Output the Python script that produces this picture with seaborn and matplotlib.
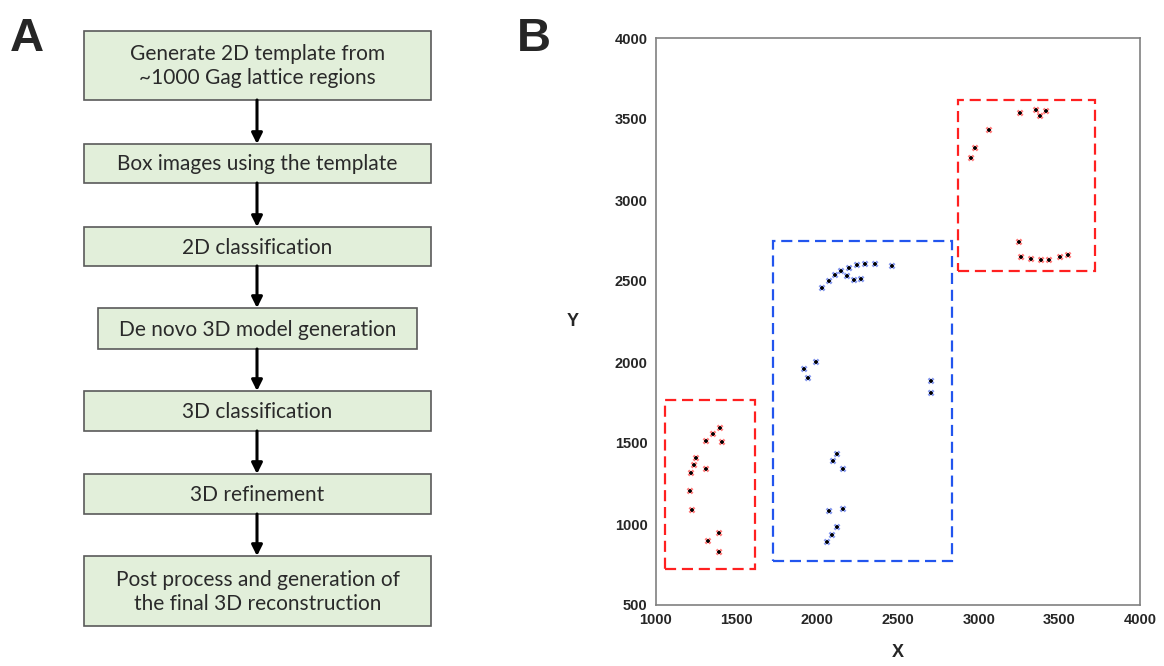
import pandas as pd
import matplotlib.pyplot as plt
import seaborn as sns
from matplotlib.patches import Rectangle

sns.set_theme(style="white")
plt.rcParams['font.family'] = ['Liberation Sans', 'DejaVu Sans']

# Flowchart steps (panel A)
steps = [
    "Generate 2D template from\n~1000 Gag lattice regions",
    "Box images using the template",
    "2D classification",
    "De novo 3D model generation",
    "3D classification",
    "3D refinement",
    "Post process and generation of\nthe final 3D reconstruction",
]

# Particle coordinates (panel B)
red_lower_x = [1397, 1353, 1310, 1409, 1248, 1236, 1217, 1310, 1211, 1223, 1391, 1322, 1391]
red_lower_y = [1593, 1556, 1512, 1506, 1407, 1364, 1315, 1340, 1204, 1086, 944, 895, 827]
blue_x = [2029, 2073, 2110, 2147, 2197, 2246, 2296, 2358, 2463, 2184, 2228, 2271,
          1992, 1918, 1942, 2705, 2705, 2122, 2097, 2159, 2073, 2159, 2122, 2091, 2060]
blue_y = [2457, 2500, 2537, 2562, 2580, 2599, 2605, 2605, 2593, 2531, 2506, 2512,
          2000, 1957, 1901, 1883, 1809, 1432, 1389, 1340, 1080, 1093, 981, 932, 889]
red_upper_x = [3257, 3356, 3418, 3381, 3064, 2978, 2953, 3250, 3263, 3325, 3387, 3436, 3505, 3554]
red_upper_y = [3537, 3556, 3549, 3519, 3432, 3321, 3259, 2741, 2648, 2636, 2630, 2630, 2648, 2660]

# Selection boxes: (x0, y0, x1, y1)
box_red_lower = (1055, 720, 1615, 1765)
box_blue = (1725, 772, 2835, 2747)
box_red_upper = (2872, 2562, 3722, 3617)

df = pd.concat([
    pd.DataFrame({"x": red_lower_x, "y": red_lower_y, "group": "red"}),
    pd.DataFrame({"x": blue_x, "y": blue_y, "group": "blue"}),
    pd.DataFrame({"x": red_upper_x, "y": red_upper_y, "group": "red"}),
])

fig = plt.figure(figsize=(11.64, 6.66), dpi=100)

# ---- Panel A: flowchart in pixel space
axA = fig.add_axes([0, 0, 1, 1])
axA.set_xlim(0, 1164)
axA.set_ylim(666, 0)
axA.axis("off")

tops = [31, 144, 227, 308, 391, 474, 556]
bottoms = [100, 183, 266, 349, 431, 514, 626]
lefts = [84, 84, 84, 98, 84, 84, 84]
rights = [431, 431, 431, 417, 431, 431, 431]
cx = 257

for i, label in enumerate(steps):
    axA.add_patch(Rectangle((lefts[i], tops[i]), rights[i] - lefts[i], bottoms[i] - tops[i],
                            facecolor="#E2EFDA", edgecolor="#5a5a5a", lw=1.2))
    axA.text((lefts[i] + rights[i]) / 2, (tops[i] + bottoms[i]) / 2 + 1, label,
             ha="center", va="center", fontsize=15, family="Lato", color="#2a2a2a",
             linespacing=1.25)
    if i < len(steps) - 1:
        axA.annotate("", xy=(cx, tops[i + 1]), xytext=(cx, bottoms[i]),
                     arrowprops=dict(arrowstyle="-|>", color="black", lw=2.2,
                                     mutation_scale=16, shrinkA=0, shrinkB=0))

fig.text(10 / 1164, 1 - 51 / 666, "A", fontsize=34, fontweight="heavy", ha="left", va="baseline")
fig.text(517 / 1164, 1 - 51 / 666, "B", fontsize=34, fontweight="heavy", ha="left", va="baseline")

# ---- Panel B: particle positions
axB = fig.add_axes([656 / 1164, 1 - 605 / 666, 484 / 1164, 567 / 666])
palette = {"red": "#FF2020", "blue": "#3050E0"}
sns.scatterplot(data=df, x="x", y="y", hue="group", palette=palette, marker="X",
                s=24, linewidth=0, alpha=0.6, legend=False, ax=axB)
sns.scatterplot(data=df, x="x", y="y", color="black", marker="+", s=9,
                linewidth=1.2, legend=False, ax=axB)

for (x0, y0, x1, y1), col in [(box_red_lower, "#FF2020"), (box_blue, "#2255EE"),
                              (box_red_upper, "#FF2020")]:
    axB.add_patch(Rectangle((x0, y0), x1 - x0, y1 - y0, fill=False, edgecolor=col,
                            lw=1.6, linestyle=(0, (5, 2.6))))

axB.set_xlim(1000, 4000)
axB.set_ylim(500, 4000)
axB.set_xticks(range(1000, 4001, 500))
axB.set_yticks(range(500, 4001, 500))
axB.tick_params(direction="in", length=4, width=1, color="#808080",
                labelsize=10.5, pad=6)
for lab in axB.get_xticklabels() + axB.get_yticklabels():
    lab.set_fontweight("bold")
for sp in axB.spines.values():
    sp.set_color("#808080")
    sp.set_linewidth(1.2)
axB.set_xlabel("X", fontsize=13, fontweight="bold", labelpad=12)
axB.set_ylabel("Y", fontsize=13, fontweight="bold", rotation=0, labelpad=30, va="center")

plt.savefig("out.png", dpi=100)
